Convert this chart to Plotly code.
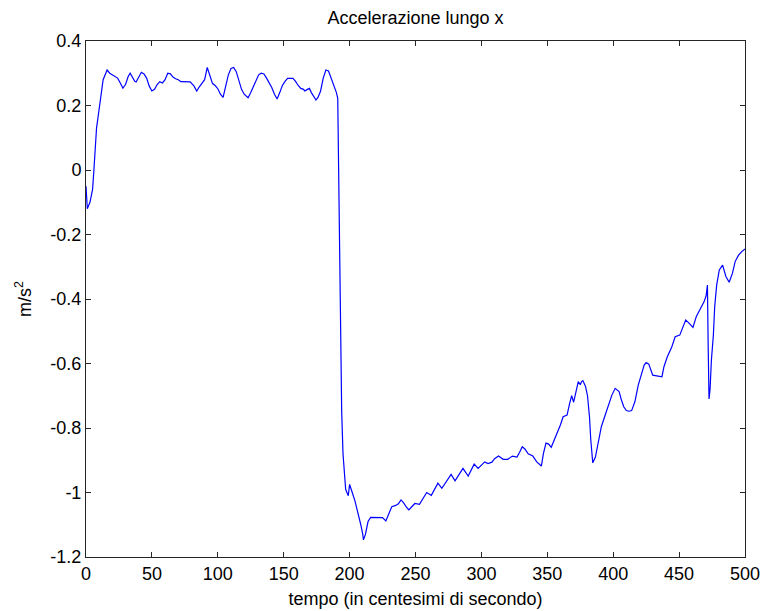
import plotly.graph_objects as go

# Acceleration samples along x (time in hundredths of a second, m/s^2)
tempo = [
    0, 1, 2, 3, 4, 5, 6, 7, 8, 10, 11, 13, 15, 16, 18, 20, 22, 24, 26, 28,
    30, 32, 33.5, 35, 37, 38, 40, 42, 44, 46, 48, 50, 52, 54, 56, 58, 60, 62, 64, 66,
    68, 70, 72, 75, 79, 82, 84, 86, 88, 90, 92, 94, 96, 98, 100, 102, 104, 106, 108, 110,
    112, 114, 116, 118, 120, 123, 125, 127, 129, 131, 133, 135, 137, 139, 141, 143, 145, 147, 149, 151,
    153, 157, 159, 161, 163, 165, 166, 168, 169.5, 171, 173, 174.5, 176, 178, 180, 182, 184, 186, 188, 190,
    191, 192, 193, 194, 195, 196, 197, 198, 199, 200, 201, 202, 204, 205.5, 207, 208.5, 210, 210.5, 212, 214,
    216, 219, 222, 225, 227.5, 230, 232, 235, 237, 239, 241, 243, 245, 247, 249.5, 253, 256, 258.5, 262, 265,
    267, 270, 272.5, 275, 277, 280, 283, 286, 290, 292, 294.5, 297.5, 300, 302.5, 305, 308, 310, 313, 316.5, 320,
    323.5, 327, 329, 331, 333, 335.5, 339, 342, 345.5, 347, 349, 351, 353, 356, 358, 360, 362, 365, 367, 368.5,
    370, 372, 373.5, 375, 376, 377, 379, 380.5, 382, 383, 384.5, 386.5, 389, 391, 393.5, 396, 399, 401.5, 404.5, 406,
    408, 410, 412, 414, 416.5, 419, 421.5, 423.5, 425, 427, 430, 434, 437, 438.5, 441, 444.5, 447, 450.5, 453, 455,
    457.5, 460.5, 463, 465, 467, 469, 470.5, 471.5, 472, 472.7, 473.5, 474.5, 476, 477, 478.5, 480.5, 483, 485.5, 488, 490.5,
    492.5, 495, 497.5, 500,
]
accel_x = [
    -0.05, -0.12, -0.11, -0.10, -0.08, -0.06, 0.00, 0.07, 0.13, 0.19, 0.22, 0.28, 0.30, 0.31, 0.30, 0.295, 0.29, 0.285, 0.27, 0.254,
    0.265, 0.29, 0.30, 0.29, 0.275, 0.273, 0.29, 0.303, 0.298, 0.285, 0.26, 0.245, 0.25, 0.265, 0.274, 0.27, 0.28, 0.30, 0.298, 0.288,
    0.283, 0.28, 0.274, 0.273, 0.273, 0.26, 0.245, 0.258, 0.27, 0.28, 0.318, 0.29, 0.268, 0.262, 0.252, 0.235, 0.225, 0.26, 0.295, 0.315,
    0.318, 0.305, 0.275, 0.25, 0.235, 0.224, 0.24, 0.258, 0.275, 0.295, 0.30, 0.298, 0.285, 0.27, 0.255, 0.235, 0.22, 0.24, 0.262, 0.275,
    0.284, 0.284, 0.275, 0.262, 0.253, 0.25, 0.245, 0.25, 0.253, 0.24, 0.225, 0.217, 0.225, 0.245, 0.285, 0.31, 0.307, 0.285, 0.265, 0.24,
    0.222, -0.08, -0.53, -0.75, -0.88, -0.95, -0.99, -1.0, -1.01, -0.975, -0.99, -1.0, -1.025, -1.05, -1.07, -1.10, -1.13, -1.147, -1.13, -1.09,
    -1.077, -1.077, -1.077, -1.078, -1.088, -1.06, -1.044, -1.04, -1.035, -1.023, -1.032, -1.045, -1.054, -1.045, -1.034, -1.037, -1.015, -1.0, -1.009, -0.985,
    -0.971, -0.987, -0.971, -0.955, -0.944, -0.964, -0.945, -0.925, -0.949, -0.93, -0.912, -0.925, -0.915, -0.905, -0.91, -0.906, -0.895, -0.887, -0.897, -0.897,
    -0.887, -0.89, -0.875, -0.858, -0.865, -0.88, -0.887, -0.905, -0.918, -0.88, -0.847, -0.85, -0.86, -0.832, -0.81, -0.79, -0.765, -0.76, -0.723, -0.70,
    -0.72, -0.677, -0.656, -0.666, -0.656, -0.653, -0.671, -0.70, -0.765, -0.837, -0.908, -0.89, -0.842, -0.796, -0.765, -0.734, -0.698, -0.677, -0.687, -0.71,
    -0.734, -0.746, -0.748, -0.746, -0.718, -0.667, -0.63, -0.605, -0.597, -0.602, -0.636, -0.64, -0.641, -0.61, -0.58, -0.548, -0.517, -0.512, -0.486, -0.465,
    -0.475, -0.488, -0.455, -0.44, -0.426, -0.408, -0.39, -0.357, -0.53, -0.71, -0.68, -0.59, -0.512, -0.424, -0.357, -0.31, -0.295, -0.33, -0.348, -0.32,
    -0.284, -0.265, -0.253, -0.245,
]

x_ticks = [0, 50, 100, 150, 200, 250, 300, 350, 400, 450, 500]
y_ticks = [0.4, 0.2, 0, -0.2, -0.4, -0.6, -0.8, -1, -1.2]
y_tick_text = ["0.4", "0.2", "0", "-0.2", "-0.4", "-0.6", "-0.8", "-1", "-1.2"]

FONT = "Liberation Sans, Arial, sans-serif"
FONT_SIZE = 18

fig = go.Figure(
    go.Scatter(
        x=tempo,
        y=accel_x,
        mode="lines",
        line=dict(color="rgb(0,0,255)", width=1.2),
        hoverinfo="skip",
    )
)

axis_common = dict(
    showgrid=False,
    zeroline=False,
    showline=True,
    linecolor="#262626",
    linewidth=1,
    mirror="ticks",
    ticks="inside",
    ticklen=5,
    tickwidth=1,
    tickcolor="#262626",
    automargin=False,
    tickfont=dict(family=FONT, size=FONT_SIZE, color="black"),
)

fig.update_layout(
    width=763,
    height=611,
    margin=dict(l=86, r=18, t=41, b=54),
    paper_bgcolor="white",
    plot_bgcolor="white",
    showlegend=False,
    title=dict(
        text="Accelerazione lungo x",
        x=(86 + 745) / 2 / 763,
        xanchor="center",
        y=1 - 18 / 611,
        yanchor="middle",
        font=dict(family=FONT, size=FONT_SIZE, color="black"),
    ),
    xaxis=dict(
        range=[0, 500],
        tickvals=x_ticks,
        ticktext=[str(v) for v in x_ticks],
        title=dict(text="tempo (in centesimi di secondo)", standoff=9,
                   font=dict(family=FONT, size=FONT_SIZE, color="black")),
        **axis_common,
    ),
    yaxis=dict(
        range=[-1.2, 0.4],
        tickvals=y_ticks,
        ticktext=y_tick_text,
        title=dict(text="m/s<sup>2</sup>", standoff=14,
                   font=dict(family=FONT, size=FONT_SIZE, color="black")),
        **axis_common,
    ),
)

fig.write_html("out.html")
